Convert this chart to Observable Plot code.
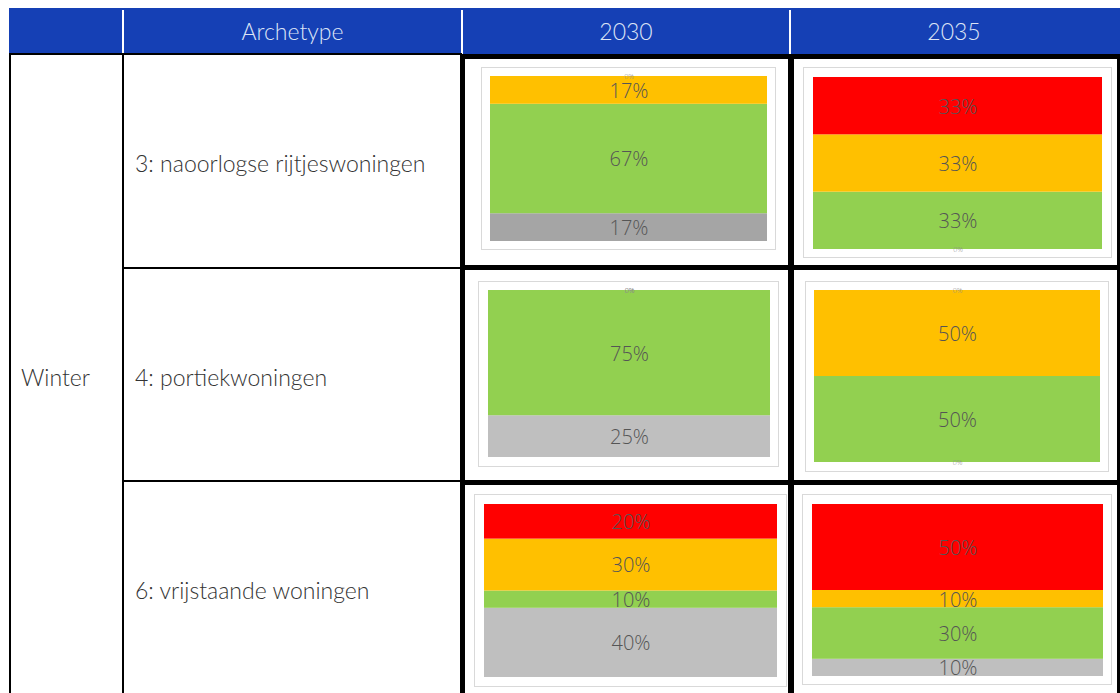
<!DOCTYPE html>
<html>
<head>
<meta charset="utf-8">
<script src="https://cdn.jsdelivr.net/npm/d3@7"></script>
<script src="https://cdn.jsdelivr.net/npm/@observablehq/plot@0.6"></script>
<style>
  html, body { margin: 0; padding: 0; background: #fff; }
  #page { position: relative; width: 1120px; height: 693px; overflow: hidden; font-family: Lato, "Open Sans", sans-serif; font-weight: 300; }
  .abs { position: absolute; }
  .hdr { color: #dde4f5; font-size: 23px; text-align: center; line-height: 46px; }
  .lbl { color: #333; font-size: 23px; line-height: 23px; white-space: nowrap; }
  .frame { box-sizing: border-box; border: 1px solid #d9d9d9; background: #fff; }
</style>
</head>
<body>
<div id="page"></div>
<script>
// ---- data ----
const season = "Winter";
const archetypes = ["3: naoorlogse rijtjeswoningen", "4: portiekwoningen", "6: vrijstaande woningen"];
const years = ["2030", "2035"];
const categories = ["donkergrijs", "grijs", "groen", "oranje", "rood"]; // stack order, bottom to top
// values in % per archetype (null = series not present in that chart)
const values2030 = [
  [17, null, 67, 17, 0],
  [null, 25, 75, 0, 0],
  [null, 40, 10, 30, 20]
];
const values2035 = [
  [null, 0, 33, 33, 33],
  [null, 0, 50, 50, 0],
  [null, 10, 30, 10, 50]
];

// ---- styles / layout ----
const colors = ["#a5a5a5", "#bfbfbf", "#92d050", "#ffc000", "#ff0000"];
const colX = [9, 123, 462, 790, 1118];
const chartBoxes = [
  [{f: [481, 67, 776, 250], b: [490, 76, 767, 241]}, {f: [803, 67, 1112, 258], b: [813, 77, 1102, 249]}],
  [{f: [478, 281, 779, 467], b: [488, 290, 770, 457]}, {f: [805, 281, 1109, 472], b: [814, 290, 1100, 462]}],
  [{f: [474, 494, 787, 687], b: [484, 504, 777, 677]}, {f: [802, 494, 1112, 685], b: [812, 504, 1103, 676]}]
];

const page = document.getElementById("page");
function box(l, t, w, h, bg, cls) {
  const d = document.createElement("div");
  d.className = "abs" + (cls ? " " + cls : "");
  Object.assign(d.style, {left: l + "px", top: t + "px", width: w + "px", height: h + "px"});
  if (bg) d.style.background = bg;
  page.appendChild(d);
  return d;
}

// header
box(9, 8, 1111, 46, "#1540b5");
[colX[1], colX[2], colX[3]].forEach(x => box(x - 1, 10, 2, 44, "#fff"));
const hdrs = ["", "Archetype", ...years];
hdrs.forEach((t, i) => {
  if (!t) return;
  const d = box(colX[i], 8, colX[i + 1] - colX[i], 46, null, "hdr");
  d.textContent = t;
});

// body grid (thin lines)
box(9, 54, 2, 693 - 54, "#000");
box(122, 54, 2, 693 - 54, "#000");
box(9, 53, 453, 2, "#000");
box(123, 267, 339, 2, "#000");
box(123, 480, 339, 2, "#000");

// thick chart grid
box(460, 54, 660, 693 - 54, "#000");
const cellX = [[465, 788], [794, 1117]];
const cellY = [[59, 265], [270, 480], [485, 700]];
cellY.forEach(([y1, y2]) => cellX.forEach(([x1, x2]) => box(x1, y1, x2 - x1, y2 - y1, "#fff")));

// labels (top = visual centre - 12)
const s = box(21, 378 - 12, 100, 23, null, "lbl");
s.textContent = season;
const labelY = [164, 378, 591];
archetypes.forEach((a, i) => {
  const d = box(135, labelY[i] - 12, 320, 23, null, "lbl");
  d.textContent = a;
});

// charts
const valuesByYear = [values2030, values2035];
archetypes.forEach((a, r) => {
  years.forEach((yr, c) => {
    const vals = valuesByYear[c][r];
    const data = categories
      .map((cat, k) => ({archetype: a, year: yr, category: cat, value: vals[k]}))
      .filter(d => d.value !== null);
    const {f, b} = chartBoxes[r][c];
    const frame = box(f[0], f[1], f[2] - f[0], f[3] - f[1], null, "frame");
    const W = f[2] - f[0] - 2, H = f[3] - f[1] - 2;
    const common = {x: () => "bar", y: "value", z: "category", order: categories, offset: "normalize"};
    const chart = Plot.plot({
      width: W,
      height: H,
      marginLeft: b[0] - f[0] - 1,
      marginRight: f[2] - b[2] - 1,
      marginTop: b[1] - f[1] - 1,
      marginBottom: f[3] - b[3] - 1,
      style: {background: "transparent", overflow: "visible"},
      x: {type: "band", axis: null, padding: 0},
      y: {axis: null, domain: [0, 1]},
      color: {domain: categories, range: colors},
      marks: [
        Plot.barY(data, Plot.stackY({...common, fill: "category"})),
        Plot.text(data, Plot.stackY({
          ...common,
          text: d => d.value === 0 ? null : `${d.value}%`,
          fill: "#555555",
          fontSize: 20,
          dy: 1,
          fontFamily: "Open Sans"
        })),
        Plot.text(data, Plot.stackY({
          ...common,
          text: d => d.value === 0 ? `${d.value}%` : null,
          fill: "#8c8c8c",
          fontSize: 7,
          fontFamily: "Open Sans"
        }))
      ]
    });
    chart.style.display = "block";
    frame.appendChild(chart);
  });
});
</script>
</body>
</html>
